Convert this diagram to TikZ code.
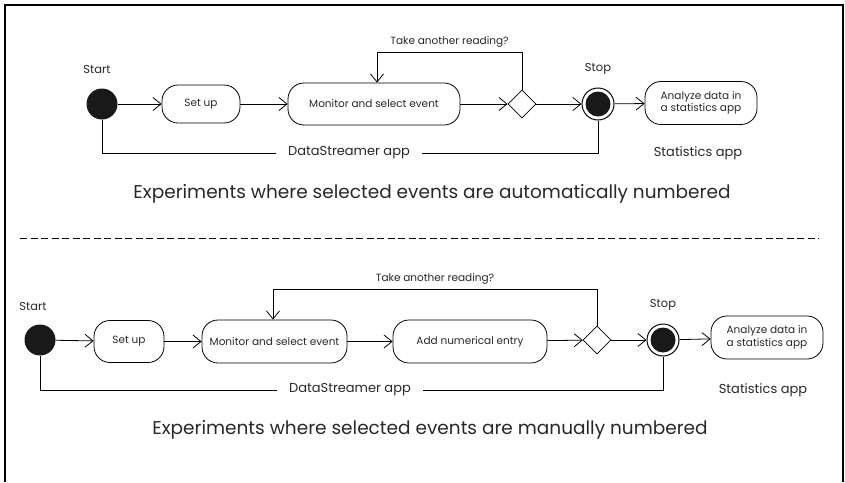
\documentclass[tikz,border=0pt]{standalone}
\usepackage{fontspec}
\setmainfont{Poppins}
\usepackage{tikz}
\usetikzlibrary{arrows.meta, positioning, shapes.geometric}
\definecolor{inkgray}{RGB}{40,40,40}
\definecolor{dotblack}{RGB}{25,25,25}

\begin{document}
\begin{tikzpicture}[
    x=1pt, y=-1pt,
    >={Straight Barb[length=8pt, width=13pt]},
    every node/.style={font=\fontsize{10.5}{12.5}\selectfont, text=inkgray},
    act/.style={draw, line width=0.8pt, rounded corners=16pt, align=center, inner sep=0pt},
    startdot/.style={circle, fill=dotblack, minimum size=31pt, inner sep=0pt},
    stopdot/.style={circle, draw, line width=1pt, minimum size=32pt, inner sep=0pt,
        path picture={\fill[dotblack] (path picture bounding box.center) circle (12.5pt);}},
    choice/.style={diamond, draw, line width=0.8pt, minimum width=28pt, minimum height=28pt, inner sep=0pt},
    flow/.style={->, line width=0.8pt},
    tag/.style={font=\fontsize{11.5}{13}\selectfont},
    swim/.style={font=\fontsize{13}{15}\selectfont, inner sep=12pt},
    caption/.style={font=\fontsize{18.5}{21}\selectfont},
]
    \useasboundingbox (0,0) rectangle (845,482);

    % Frame, open at the bottom
    \draw[line width=2.2pt] (5,482) -- (5,5) -- (843,5) -- (843,482);

    % Automatically numbered
    \node[tag] (startlblA) at (97,69) {Start};
    \node[startdot] (startA) at (102,104) {};
    \node[act, minimum width=78pt, minimum height=38pt] (setA) at (201,104) {Set up};
    \node[act, minimum width=172pt, minimum height=42pt] (monA) at (374,104) {Monitor and select event};
    \node[choice] (decA) at (522,104) {};
    \node[tag] (stoplblA) at (598,69) {Stop};
    \node[stopdot] (stopA) at (598,104) {};
    \node[act, minimum width=112pt, minimum height=43pt] (anaA) at (701,103) {Analyze data in\\a statistics app};
    \coordinate (loopA) at (377,52);

    \draw[flow] (startA) -- (setA);
    \draw[flow] (setA) -- (monA);
    \draw[flow] (monA) -- (decA);
    \draw[flow] (decA) -- (stopA);
    \draw[flow] (stopA) -- (anaA);
    \draw[flow] (decA.north) |- (loopA) node[pos=0.75, above=1pt] {Take another reading?}
        -- (loopA |- monA.north);

    \node[swim] (dsA) at (349,153) {DataStreamer app};
    \draw[line width=0.8pt] (startA.south) |- (dsA.west);
    \draw[line width=0.8pt] (dsA.east) -| (stopA.south);
    \node[swim] (statA) at (698,153) {Statistics app};
    \node[caption] (capA) at (432,194) {Experiments where selected events are automatically numbered};

    % Separator
    \draw[line width=0.8pt, dash pattern=on 7pt off 3.5pt] (20,238) -- (819,238);

    % Manually numbered
    \node[tag] (startlblB) at (33,306) {Start};
    \node[startdot] (startB) at (40,340) {};
    \node[act, minimum width=70pt, minimum height=42pt] (setB) at (129,341.5) {Set up};
    \node[act, minimum width=145pt, minimum height=43pt] (monB) at (274.5,341.5) {Monitor and select event};
    \node[act, minimum width=154pt, minimum height=43pt] (addB) at (470,341.5) {Add numerical entry};
    \node[choice] (decB) at (597,340) {};
    \node[tag] (stoplblB) at (663,305) {Stop};
    \node[stopdot] (stopB) at (663,340) {};
    \node[act, minimum width=112pt, minimum height=43pt] (anaB) at (767,337.5) {Analyze data in\\a statistics app};
    \coordinate (loopB) at (273,289);

    \draw[flow] (startB) -- (setB);
    \draw[flow] (setB) -- (monB);
    \draw[flow] (monB) -- (addB);
    \draw[flow] (addB) -- (decB);
    \draw[flow] (decB) -- (stopB);
    \draw[flow] (stopB) -- (anaB);
    \draw[flow] (decB.north) |- (loopB) node[pos=0.75, above=1pt] {Take another reading?}
        -- (loopB |- monB.north);

    \node[swim] (dsB) at (350,390) {DataStreamer app};
    \draw[line width=0.8pt] (startB.south) |- (dsB.west);
    \draw[line width=0.8pt] (dsB.east) -| (stopB.south);
    \node[swim] (statB) at (763,390) {Statistics app};
    \node[caption] (capB) at (430,430) {Experiments where selected events are manually numbered};
\end{tikzpicture}
\end{document}
